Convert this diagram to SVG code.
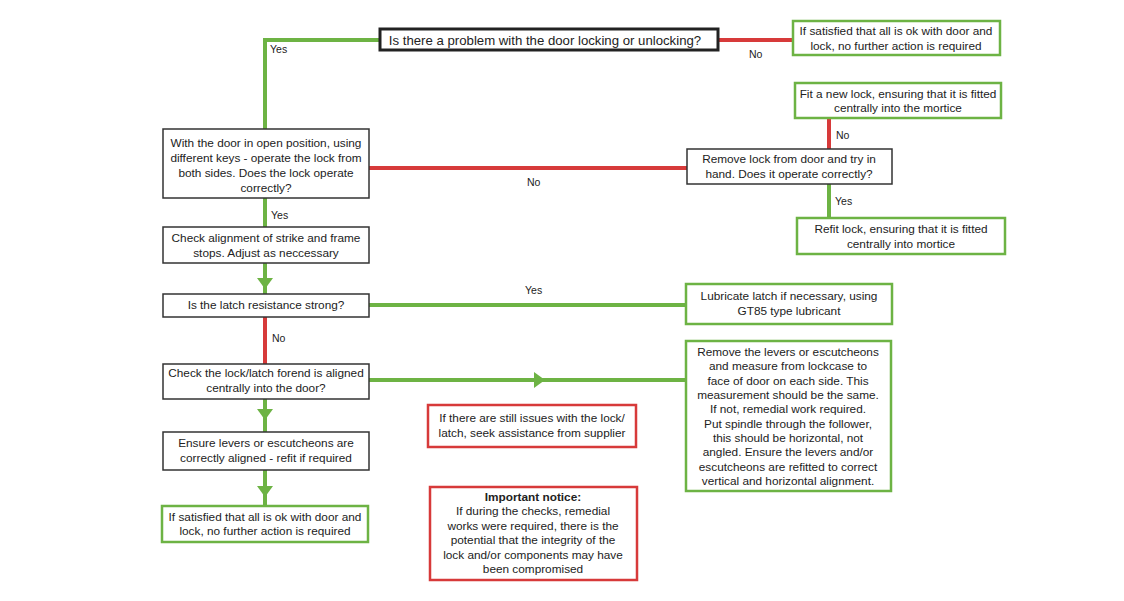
<svg xmlns="http://www.w3.org/2000/svg" width="1124" height="601" viewBox="0 0 1124 601">
<style>
text{font-family:"Liberation Sans",Arial,sans-serif;font-size:11.8px;fill:#222;text-anchor:middle}
.lbl{font-size:10.5px;text-anchor:start}
.bk{fill:#fff;stroke:#333;stroke-width:1.5}
.gb{fill:#fff;stroke:#6db344;stroke-width:2.5}
.rb{fill:#fff;stroke:#d73a3a;stroke-width:2.5}
.g{stroke:#6db344;stroke-width:4;fill:none}
.r{stroke:#d73a3a;stroke-width:4;fill:none}
.ga{fill:#6db344}
</style>
<rect width="1124" height="601" fill="#fff"/>
<g id="connectors">
<polyline class="g" points="380,40 265,40 265,129"/>
<line class="r" x1="718" y1="40" x2="793" y2="40"/>
<line class="r" x1="369" y1="168" x2="687" y2="168"/>
<line class="r" x1="829" y1="118" x2="829" y2="149"/>
<line class="g" x1="829" y1="184" x2="829" y2="218"/>
<line class="g" x1="265" y1="198" x2="265" y2="227"/>
<line class="g" x1="265" y1="263" x2="265" y2="294"/>
<polygon class="ga" points="257,278 273,278 265,289"/>
<line class="g" x1="369" y1="305" x2="686" y2="305"/>
<line class="r" x1="265" y1="317" x2="265" y2="364"/>
<line class="g" x1="369" y1="380" x2="686" y2="380"/>
<polygon class="ga" points="534,372 534,388 545,380"/>
<line class="g" x1="265" y1="399" x2="265" y2="432"/>
<polygon class="ga" points="257,409 273,409 265,420"/>
<line class="g" x1="265" y1="470" x2="265" y2="506"/>
<polygon class="ga" points="257,486 273,486 265,497"/>
<text class="lbl" x="270" y="53">Yes</text>
<text class="lbl" x="749" y="58">No</text>
<text class="lbl" x="527" y="186">No</text>
<text class="lbl" x="836" y="139">No</text>
<text class="lbl" x="835" y="205">Yes</text>
<text class="lbl" x="271" y="219">Yes</text>
<text class="lbl" x="525" y="294">Yes</text>
<text class="lbl" x="272" y="342">No</text>
</g>
<g id="q1">
<rect x="380" y="29" width="338" height="21" fill="#fff" stroke="#222" stroke-width="3"/>
<text x="545" y="45" style="font-size:13.2px">Is there a problem with the door locking or unlocking?</text>
</g>
<g id="ok-top">
<rect class="gb" x="793" y="21" width="207" height="34"/>
<text x="896" y="35">If satisfied that all is ok with door and</text>
<text x="896" y="50">lock, no further action is required</text>
</g>
<g id="keys">
<rect class="bk" x="163" y="129" width="206" height="69"/>
<text x="266" y="147">With the door in open position, using</text>
<text x="266" y="162">different keys - operate the lock from</text>
<text x="266" y="177">both sides. Does the lock operate</text>
<text x="266" y="192">correctly?</text>
</g>
<g id="remove-lock">
<rect class="bk" x="687" y="149" width="205" height="35"/>
<text x="789" y="163">Remove lock from door and try in</text>
<text x="789" y="178">hand. Does it operate correctly?</text>
</g>
<g id="new-lock">
<rect class="gb" x="795" y="83" width="206" height="35"/>
<text x="898" y="98">Fit a new lock, ensuring that it is fitted</text>
<text x="898" y="112">centrally into the mortice</text>
</g>
<g id="refit">
<rect class="gb" x="797" y="218" width="208" height="36"/>
<text x="901" y="233">Refit lock, ensuring that it is fitted</text>
<text x="901" y="248">centrally into mortice</text>
</g>
<g id="strike">
<rect class="bk" x="163" y="227" width="206" height="36"/>
<text x="266" y="242">Check alignment of strike and frame</text>
<text x="266" y="257">stops. Adjust as neccessary</text>
</g>
<g id="latch">
<rect class="bk" x="163" y="294" width="206" height="23"/>
<text x="266" y="309">Is the latch resistance strong?</text>
</g>
<g id="lubricate">
<rect class="gb" x="686" y="284" width="206" height="40"/>
<text x="789" y="300">Lubricate latch if necessary, using</text>
<text x="789" y="315">GT85 type lubricant</text>
</g>
<g id="forend">
<rect class="bk" x="163" y="364" width="206" height="35"/>
<text x="266" y="377">Check the lock/latch forend is aligned</text>
<text x="266" y="392">centrally into the door?</text>
</g>
<g id="levers">
<rect class="gb" x="686" y="341" width="205" height="150"/>
<text x="788" y="356">Remove the levers or escutcheons</text>
<text x="788" y="370">and measure from lockcase to</text>
<text x="788" y="385">face of door on each side. This</text>
<text x="788" y="399">measurement should be the same.</text>
<text x="788" y="413">If not, remedial work required.</text>
<text x="788" y="428">Put spindle through the follower,</text>
<text x="788" y="442">this should be horizontal, not</text>
<text x="788" y="456">angled. Ensure the levers and/or</text>
<text x="788" y="471">escutcheons are refitted to correct</text>
<text x="788" y="485">vertical and horizontal alignment.</text>
</g>
<g id="issues">
<rect class="rb" x="428" y="405" width="208" height="42"/>
<text x="532" y="422">If there are still issues with the lock/</text>
<text x="532" y="437">latch, seek assistance from supplier</text>
</g>
<g id="ensure">
<rect class="bk" x="163" y="432" width="206" height="38"/>
<text x="266" y="447">Ensure levers or escutcheons are</text>
<text x="266" y="462">correctly aligned - refit if required</text>
</g>
<g id="ok-bottom">
<rect class="gb" x="162" y="506" width="206" height="36"/>
<text x="265" y="521">If satisfied that all is ok with door and</text>
<text x="265" y="535">lock, no further action is required</text>
</g>
<g id="notice">
<rect class="rb" x="430" y="487" width="207" height="93"/>
<text x="533" y="501" style="font-weight:bold">Important notice:</text>
<text x="533" y="515">If during the checks, remedial</text>
<text x="533" y="530">works were required, there is the</text>
<text x="533" y="544">potential that the integrity of the</text>
<text x="533" y="559">lock and/or components may have</text>
<text x="533" y="573">been compromised</text>
</g>
</svg>
